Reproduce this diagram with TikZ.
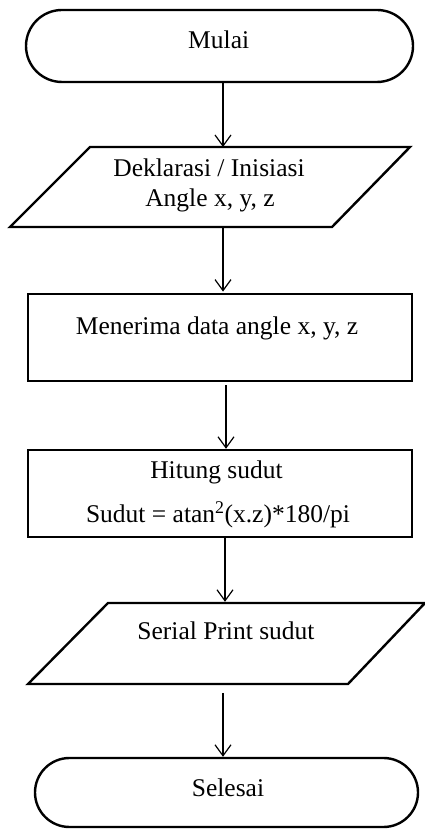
\documentclass[tikz,border=0pt]{standalone}
\usepackage{fontspec}
\setmainfont{Liberation Serif}
\usetikzlibrary{shapes.misc,arrows.meta}
\begin{document}
\begin{tikzpicture}[x=1pt,y=1pt,
  term/.style={rounded rectangle, draw, line width=2.4pt, inner sep=0pt},
  iobox/.style={rectangle, draw=none, inner sep=0pt, outer sep=0pt},
  ioline/.style={line width=2.4pt, line join=miter},
  proc/.style={rectangle, draw, line width=2.4pt, inner sep=0pt},
  lbl/.style={anchor=base, inner sep=0pt, font=\fontsize{25.5}{30}\selectfont},
  arr/.style={-{Straight Barb[length=11pt,width=16pt]}, line width=1.2pt}]
\useasboundingbox (0,0) rectangle (425,829);
% shapes
\node[term, minimum width=387pt, minimum height=72pt] (start) at (219.5,783) {};
\node[iobox, minimum width=400pt, minimum height=80pt] (decl) at (210,642) {};
\draw[ioline] (decl.south west) -- ([xshift=-78pt]decl.south east) -- (decl.north east) -- ([xshift=80pt]decl.north west) -- cycle;
\node[proc, minimum width=384pt, minimum height=87pt] (recv) at (220,491.5) {};
\node[proc, minimum width=384pt, minimum height=87pt] (calc) at (220,335.5) {};
\node[iobox, minimum width=397pt, minimum height=81pt] (out) at (226.5,185.5) {};
\draw[ioline] (out.south west) -- ([xshift=-77pt]out.south east) -- (out.north east) -- ([xshift=80pt]out.north west) -- cycle;
\node[term, minimum width=383pt, minimum height=69pt] (stop) at (226.5,36.5) {};
% labels
\node[lbl] (t1) at (218.7,780) {Mulai};
\node[lbl] (t2a) at (209,652) {Deklarasi / Inisiasi};
\node[lbl] (t2b) at (210,622.3) {Angle x, y, z};
\node[lbl] (t3) at (217,494) {Menerima data angle x, y, z};
\node[lbl] (t4a) at (216.5,350) {Hitung sudut};
\node[lbl] (t4b) at (218,306.3) {Sudut = atan\textsuperscript{2}(x.z)*180/pi};
\node[lbl] (t5) at (226,189) {Serial Print sudut};
\node[lbl] (t6) at (228,32.3) {Selesai};
% arrow columns
\coordinate (c1) at (223,0);
\coordinate (c2) at (223,0);
\coordinate (c3) at (226,0);
\coordinate (c4) at (225,0);
\coordinate (c5) at (223,0);
% connectors
\draw[arr] (start.south -| c1) -- (decl.north -| c1);
\draw[arr, shorten <=1.2pt, shorten >=1.2pt] (decl.south -| c2) -- (recv.north -| c2);
\draw[arr, shorten <=3pt] (recv.south -| c3) -- (calc.north -| c3);
\draw[arr, shorten >=1.2pt] (calc.south -| c4) -- (out.north -| c4);
\draw[arr, shorten <=9pt] (out.south -| c5) -- (stop.north -| c5);
\end{tikzpicture}
\end{document}
